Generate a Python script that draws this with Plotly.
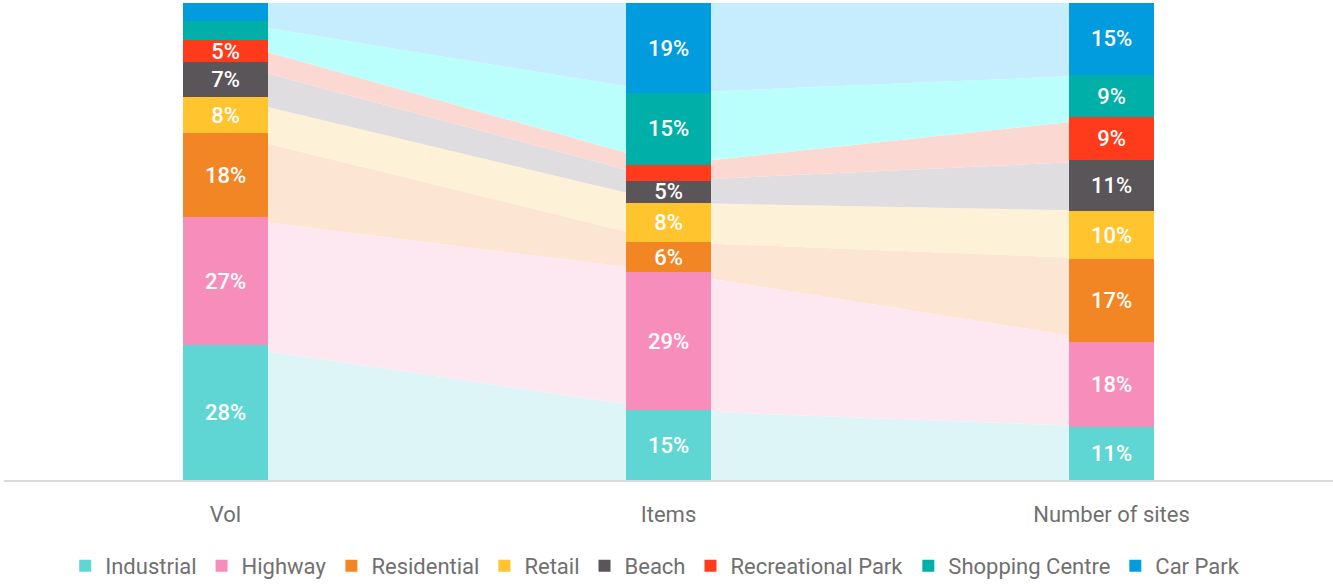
import plotly.graph_objects as go

categories = ["Vol", "Items", "Number of sites"]
series_names = ["Industrial", "Highway", "Residential", "Retail", "Beach",
                "Recreational Park", "Shopping Centre", "Car Park"]

industrial = [28.3, 14.6, 11.1]
highway = [26.8, 29.0, 17.8]
residential = [17.6, 6.3, 17.4]
retail = [7.6, 8.2, 10.1]
beach = [7.3, 4.6, 10.6]
recreational_park = [4.6, 3.4, 9.0]
shopping_centre = [4.0, 15.0, 9.0]
car_park = [3.8, 18.9, 15.0]

series_values = [industrial, highway, residential, retail, beach,
                 recreational_park, shopping_centre, car_park]

bar_colors = ["#5FD6D3", "#F78DBB", "#F38624", "#FFC42E", "#5A5558",
              "#FF3B1B", "#00AFA8", "#009CDE"]
band_colors = ["#DDF5F6", "#FDE8F1", "#FDE5D3", "#FDF2D7", "#DFDDE0",
               "#FCD8D2", "#BBFFFD", "#C5EDFD"]

FONT = "Roboto"
x_pos = list(range(len(categories)))

fig = go.Figure()

# connecting bands (behind, base axes)
for name, vals, col in zip(series_names, series_values, band_colors):
    fig.add_trace(go.Scatter(
        x=x_pos, y=vals, stackgroup="bands", mode="none",
        fillcolor=col, line=dict(width=0), showlegend=False,
        hoverinfo="skip", xaxis="x", yaxis="y"))

# stacked bars (on overlay axes so they sit above the bands)
for name, vals, col in zip(series_names, series_values, bar_colors):
    labels = [f"{round(v)}%" if v >= 4.5 else "" for v in vals]
    fig.add_trace(go.Bar(
        x=x_pos, y=vals, name=name, marker=dict(color=col, line=dict(width=0)),
        text=labels, textposition="inside", insidetextanchor="middle",
        constraintext="none",
        textfont=dict(color="white", size=22, family=FONT, weight=500),
        width=0.19, xaxis="x2", yaxis="y2"))

xr = [-0.5, 2.5]
yr = [0, 100]
fig.update_layout(
    width=1333, height=584,
    margin=dict(l=4, r=0, t=3, b=104, autoexpand=False),
    paper_bgcolor="white", plot_bgcolor="white",
    barmode="stack",
    font=dict(family=FONT, color="#707070", size=22),
    xaxis=dict(range=xr, tickvals=x_pos, ticktext=categories,
               showgrid=False, zeroline=False, showline=True,
               linecolor="#DADADA", linewidth=2, ticks="",
               ticklabelstandoff=14, automargin=False,
               tickfont=dict(size=22, color="#707070", family=FONT)),
    yaxis=dict(range=yr, showgrid=False, zeroline=False, showticklabels=False,
               automargin=False),
    xaxis2=dict(range=xr, overlaying="x", showgrid=False, zeroline=False,
                showticklabels=False, showline=False),
    yaxis2=dict(range=yr, overlaying="y", showgrid=False, zeroline=False,
                showticklabels=False),
    legend=dict(orientation="h", x=0.49, xanchor="center",
                yref="container", y=0.031, yanchor="middle",
                traceorder="normal",
                font=dict(size=22, color="#707070", family=FONT),
                itemwidth=30),
    showlegend=True,
)

fig.write_html(
    "out.html",
    config={"displayModeBar": False},
    post_script="document.body.style.margin='0';document.body.style.overflow='hidden';",
)
